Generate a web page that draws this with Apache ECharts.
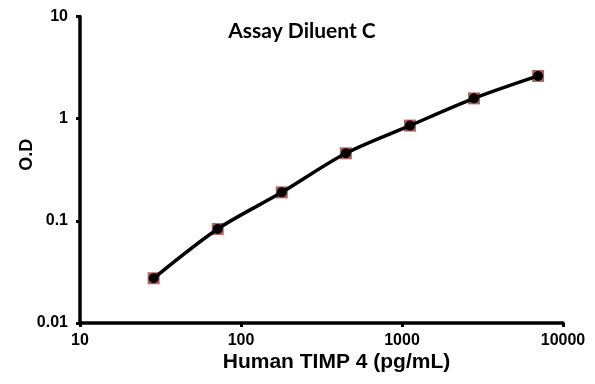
<!DOCTYPE html>
<html><head><meta charset="utf-8">
<script src="https://cdn.jsdelivr.net/npm/echarts@6/dist/echarts.min.js"></script>
<style>html,body{margin:0;padding:0;background:#fff}#c{width:595px;height:384px}</style>
</head><body><div id="c"></div>
<script>
var concentrations = [28.67, 71.68, 179.2, 448, 1120, 2800, 7000];
var odValues = [0.0274, 0.0833, 0.190, 0.458, 0.855, 1.58, 2.62];
var xTickLabels = ['10', '100', '1000', '10000'];
var yTickLabels = ['0.01', '0.1', '1', '10'];
var chartTitle = 'Assay Diluent C';
var xName = 'Human TIMP 4 (pg/mL)';
var yName = 'O.D';

var pts = concentrations.map(function (c, i) { return [c, odValues[i]]; });
function fmt(list) {
  return function (v) {
    for (var i = 0; i < list.length; i++) {
      if (Math.abs(Math.log10(v) - Math.log10(parseFloat(list[i]))) < 1e-6) return list[i];
    }
    return '';
  };
}
var FONT = "'Liberation Sans', Arial, sans-serif";
var lbl = { color: '#000', fontFamily: FONT, fontWeight: 'bold', fontSize: 16 };
var chart = echarts.init(document.getElementById('c'));
chart.setOption({
  animation: false,
  backgroundColor: '#fff',
  title: {
    text: chartTitle, left: 297, top: 16, textAlign: 'center',
    textStyle: { fontFamily: 'Lato', fontWeight: 'bold', fontSize: 21, color: '#000' }
  },
  grid: { left: 80, right: 32, top: 16.5, bottom: 61 },
  xAxis: {
    type: 'log', logBase: 10, min: 10, max: 10000,
    name: xName, nameLocation: 'middle', nameGap: 29, nameMoveOverlap: false,
    nameTextStyle: { color: '#000', fontFamily: FONT, fontWeight: 'bold', fontSize: 21, padding: [0, 0, 0, 30] },
    axisLine: { lineStyle: { color: '#000', width: 3.5 } },
    axisTick: { inside: false, length: 4, lineStyle: { color: '#000', width: 3 } },
    minorTick: { show: false },
    splitLine: { show: false },
    axisLabel: Object.assign({ margin: 10, formatter: fmt(xTickLabels) }, lbl)
  },
  yAxis: {
    type: 'log', logBase: 10, min: 0.01, max: 10,
    name: yName, nameLocation: 'middle', nameGap: 44, nameRotate: 90, nameMoveOverlap: false,
    nameTextStyle: { color: '#000', fontFamily: FONT, fontWeight: 'bold', fontSize: 18, padding: [0, 0, 0, 30] },
    axisLine: { lineStyle: { color: '#000', width: 3.5 } },
    axisTick: { inside: false, length: 4, lineStyle: { color: '#000', width: 3 } },
    splitLine: { show: false },
    axisLabel: Object.assign({ margin: 12, formatter: fmt(yTickLabels) }, lbl)
  },
  series: [
    {
      type: 'scatter', data: pts, symbol: 'rect', symbolSize: 12,
      itemStyle: { color: '#9a3c3c' }, z: 2
    },
    {
      type: 'line', data: pts, smooth: 0.3, symbol: 'circle', symbolSize: 10,
      lineStyle: { color: '#000', width: 3.5 },
      itemStyle: { color: '#000' }, z: 3
    }
  ]
});
</script></body></html>
